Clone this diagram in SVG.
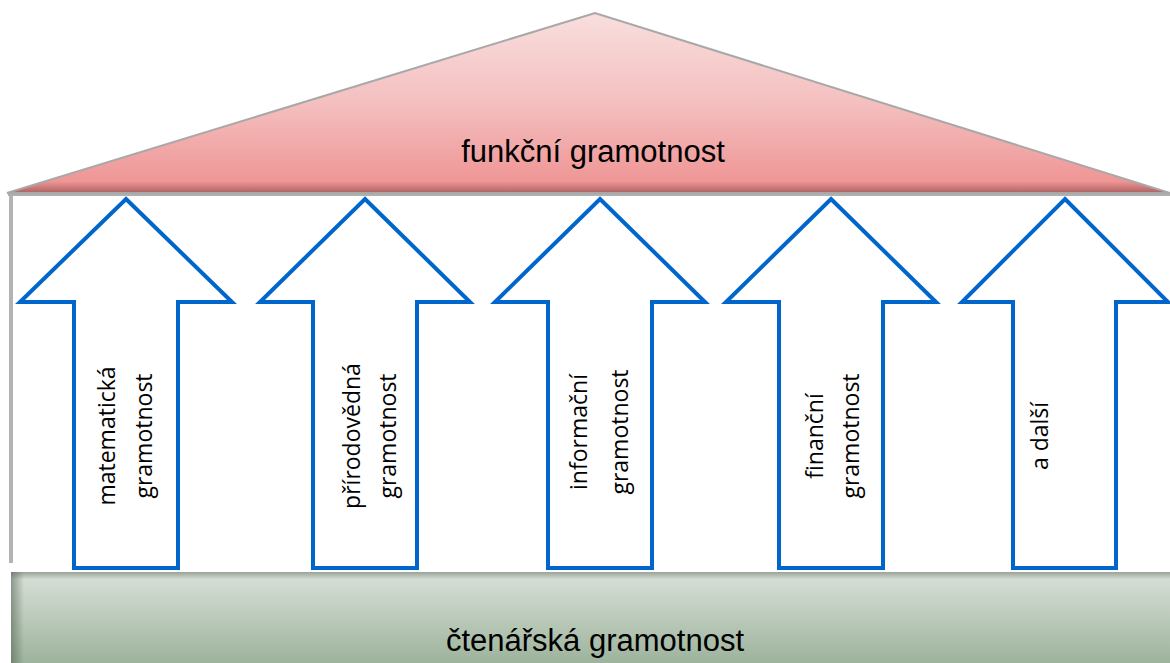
<svg xmlns="http://www.w3.org/2000/svg" width="1170" height="663" viewBox="0 0 1170 663">
<defs>
<linearGradient id="roofG" x1="0" y1="13" x2="0" y2="194" gradientUnits="userSpaceOnUse">
<stop offset="0" stop-color="#f9dede"/>
<stop offset="0.5" stop-color="#f4bfbf"/>
<stop offset="0.93" stop-color="#ef9696"/>
<stop offset="1" stop-color="#a85c5c"/>
</linearGradient>
<linearGradient id="baseG" x1="0" y1="572" x2="0" y2="663" gradientUnits="userSpaceOnUse">
<stop offset="0" stop-color="#98a298"/>
<stop offset="0.08" stop-color="#d5ddd4"/>
<stop offset="1" stop-color="#9db39c"/>
</linearGradient>
<linearGradient id="leftShade" x1="11" y1="0" x2="24" y2="0" gradientUnits="userSpaceOnUse">
<stop offset="0" stop-color="#4f5f4f" stop-opacity="0.55"/>
<stop offset="1" stop-color="#4f5f4f" stop-opacity="0"/>
</linearGradient>
<style>
.arrow{fill:#fff;stroke:#0066cc;stroke-width:4;stroke-linejoin:miter}
.lbl{font-family:"Open Sans","Liberation Sans",sans-serif;font-size:23px;fill:#000;text-anchor:middle}
.big{font-family:"Liberation Sans",Arial,sans-serif;font-size:31px;fill:#000;text-anchor:middle}
</style>
</defs>
<rect width="1170" height="663" fill="#fff"/>
<g id="frame">
<path d="M11,195 L11,563" stroke="#b3b3b3" stroke-width="4" fill="none"/>
<path d="M8,195 L1170,195" stroke="#b0b0b0" stroke-width="2" fill="none"/>
</g>
<g id="roof">
<polygon points="7,193 595,13 1170,193" fill="url(#roofG)" stroke="#a8a8a8" stroke-width="2"/>
<text class="big" x="593" y="162">funkční gramotnost</text>
</g>
<g id="base">
<rect x="11" y="572" width="1160" height="92" fill="url(#baseG)"/>
<rect x="11" y="572" width="14" height="92" fill="url(#leftShade)"/>
<text class="big" x="595" y="651">čtenářská gramotnost</text>
</g>
<g id="connectors">
<path class="arrow" d="M126,199 L232,302 L178,302 L178,568 L74,568 L74,302 L20,302 Z"/>
<path class="arrow" d="M365,199 L470,302 L417,302 L417,568 L313,568 L313,302 L260,302 Z"/>
<path class="arrow" d="M600,199 L705,302 L652,302 L652,568 L548,568 L548,302 L495,302 Z"/>
<path class="arrow" d="M831,199 L936,302 L883,302 L883,568 L779,568 L779,302 L726,302 Z"/>
<path class="arrow" d="M1065,199 L1168,302 L1116,302 L1116,568 L1013,568 L1013,302 L962,302 Z"/>
</g>
<g id="label-mat">
<text class="lbl" transform="translate(115,436) rotate(-90)">matematická</text>
<text class="lbl" transform="translate(152,436) rotate(-90)">gramotnost</text>
</g>
<g id="label-prir">
<text class="lbl" transform="translate(360,436) rotate(-90)">přírodovědná</text>
<text class="lbl" transform="translate(396,436) rotate(-90)">gramotnost</text>
</g>
<g id="label-inf">
<text class="lbl" transform="translate(587,432) rotate(-90)">informační</text>
<text class="lbl" transform="translate(628,432) rotate(-90)">gramotnost</text>
</g>
<g id="label-fin">
<text class="lbl" transform="translate(823,436) rotate(-90)">finanční</text>
<text class="lbl" transform="translate(859,436) rotate(-90)">gramotnost</text>
</g>
<g id="label-dalsi">
<text class="lbl" transform="translate(1048,436) rotate(-90)">a další</text>
</g>
</svg>
